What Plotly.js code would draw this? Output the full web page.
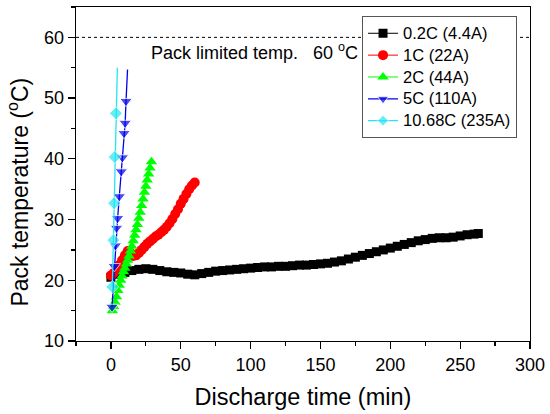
<!DOCTYPE html>
<html>
<head>
<meta charset="utf-8">
<script src="https://cdn.plot.ly/plotly-3.0.1.min.js"></script>
<style>html,body{margin:0;padding:0;background:#fff;}#chart{width:550px;height:414px;}</style>
</head>
<body>
<div id="chart"></div>
<script>
// Series names
const seriesNames = ["0.2C (4.4A)", "1C (22A)", "2C (44A)", "5C (110A)", "10.68C (235A)"];

// 0.2C (4.4A)
const timeC02 = [0,5,10,15,20,25,30,35,40,45,50,55,60,65,70,75,80,85,90,95,100,105,110,115,120,125,130,135,140,145,150,155,160,165,170,175,180,185,190,195,200,205,210,215,220,225,230,235,240,245,250,255,260,263];
const tempC02 = [20.5,21.0,21.3,21.6,21.8,21.9,21.8,21.6,21.4,21.3,21.2,21.0,20.9,21.1,21.3,21.5,21.6,21.7,21.8,21.9,22.0,22.1,22.2,22.2,22.3,22.3,22.4,22.5,22.5,22.6,22.7,22.8,23.0,23.2,23.5,23.8,24.1,24.4,24.7,25.0,25.3,25.6,25.9,26.2,26.5,26.7,26.9,27.0,27.0,27.1,27.3,27.5,27.6,27.7];

// 1C (22A)
const timeC1 = [0,2,4,6,8,10,12,14,16,18,20,22,24,26,28,30,32,34,36,38,40,42,44,46,48,50,52,54,56,58,60];
const tempC1 = [20.8,21.2,21.8,22.5,23.3,24.1,24.8,24.5,24.0,24.1,24.5,25.0,25.5,26.0,26.4,26.8,27.2,27.5,27.9,28.3,28.8,29.4,30.1,30.9,31.7,32.6,33.4,34.2,35.0,35.6,36.1];

// 2C (44A)
const timeC2 = [1,2,3,4,5,6,7,8,9,10,11,12,13,14,15,16,17,18,19,20,21,22,23,24,25,26,27,28,29];
const tempC2 = [15.0,15.7,16.4,17.3,18.3,19.2,20.0,20.7,21.4,22.0,22.7,23.3,24.0,24.8,25.6,26.5,27.4,28.3,29.2,30.2,31.2,32.3,33.4,34.5,35.5,36.5,37.5,38.5,39.5];

// 5C (110A)
const timeC5 = [0.8,2.4,3.2,4.0,4.8,6.0,7.4,8.2,9.4,10.2,10.8,11.9];
const tempC5 = [15.6,22.3,25.7,28.6,30.2,33.8,37.9,40.2,44.2,45.9,49.5,54.7];

// 10.68C (235A)
const timeC10 = [1.0,1.8,2.3,2.7,3.6,4.6];
const tempC10 = [18.9,26.6,32.7,40.3,47.5,55.0];

// Axis ticks / labels / reference line
const xTicks = [0,50,100,150,200,250,300];
const yTicks = [10,20,30,40,50,60];
const xTitle = "Discharge time (min)";
const yTitle = "Pack temperature (<sup>o</sup>C)";
const limitTemp = 60;
const limitLabel = "Pack limited temp.&nbsp;&nbsp; 60 <sup>o</sup>C";

const FONT = "Arial, 'Liberation Sans', sans-serif";

function lastNoMarker(arr, size) {
  return arr.map((_, i) => i === arr.length - 1 ? 0 : size);
}
function legendName(s) {
  return '<span style="font-size:16.5px">' + s + '</span>';
}

const traces = [
  {x: timeC02, y: tempC02, name: legendName(seriesNames[0]), mode: "lines+markers",
   line: {color: "#000000", width: 1}, marker: {symbol: "square", size: 9, color: "#000000"}},
  {x: timeC1, y: tempC1, name: legendName(seriesNames[1]), mode: "lines+markers",
   line: {color: "#ff0000", width: 1}, marker: {symbol: "circle", size: 10, color: "#ff0000"}},
  {x: timeC2, y: tempC2, name: legendName(seriesNames[2]), mode: "lines+markers",
   line: {color: "#00ff00", width: 1}, marker: {symbol: "triangle-up", size: 10, color: "#00ff00"}},
  {x: timeC5, y: tempC5, name: legendName(seriesNames[3]), mode: "lines+markers",
   line: {color: "#0000ee", width: 1.3}, marker: {symbol: "triangle-down", size: lastNoMarker(timeC5, 11), color: "#0000ee"}},
  {x: timeC10, y: tempC10, name: legendName(seriesNames[4]), mode: "lines+markers",
   line: {color: "#22e6f2", width: 1.3}, marker: {symbol: "diamond", size: lastNoMarker(timeC10, 10), color: "#22e6f2"}}
];

const layout = {
  width: 550, height: 414,
  margin: {l: 76, r: 20, t: 7, b: 73},
  paper_bgcolor: "#ffffff", plot_bgcolor: "#ffffff",
  font: {family: FONT, color: "#000000", size: 16},
  showlegend: true,
  legend: {x: 0.63, y: 0.972, xanchor: "left", yanchor: "top",
    bgcolor: "#ffffff", bordercolor: "#555555", borderwidth: 1,
    font: {family: FONT, size: 14.5, color: "#000"}, tracegroupgap: 0},
  xaxis: {
    range: [-25, 300], tickvals: xTicks, ticks: "outside", ticklen: 7, tickwidth: 1.3,
    tickcolor: "#000", showline: true, linecolor: "#000", linewidth: 1.3, mirror: true,
    showgrid: false, zeroline: false, tickfont: {size: 18},
    minor: {dtick: 25, tick0: 0, ticks: "outside", ticklen: 4, tickwidth: 1.2, tickcolor: "#000", showgrid: false},
    title: {text: xTitle, font: {size: 23.5}, standoff: 14}
  },
  yaxis: {
    range: [10, 65], tickvals: yTicks, ticks: "outside", ticklen: 7, tickwidth: 1.3,
    tickcolor: "#000", showline: true, linecolor: "#000", linewidth: 1.3, mirror: true,
    showgrid: false, zeroline: false, tickfont: {size: 18},
    minor: {dtick: 5, tick0: 0, ticks: "outside", ticklen: 4, tickwidth: 1.2, tickcolor: "#000", showgrid: false}
  },
  shapes: [{type: "line", xref: "paper", x0: 0, x1: 1, yref: "y", y0: limitTemp, y1: limitTemp,
    line: {color: "#000", width: 1, dash: "dot"}}],
  annotations: [
    {text: limitLabel, xref: "x", yref: "y", x: 27.5, y: 57.6,
     xanchor: "left", yanchor: "middle", showarrow: false, font: {size: 18, family: FONT}},
    {text: yTitle, xref: "paper", yref: "paper", x: -0.128, y: 0.447, textangle: -90,
     xanchor: "center", yanchor: "middle", showarrow: false, font: {size: 23, family: FONT}}
  ]
};

Plotly.newPlot("chart", traces, layout, {displayModeBar: false, staticPlot: true});
</script>
</body>
</html>
